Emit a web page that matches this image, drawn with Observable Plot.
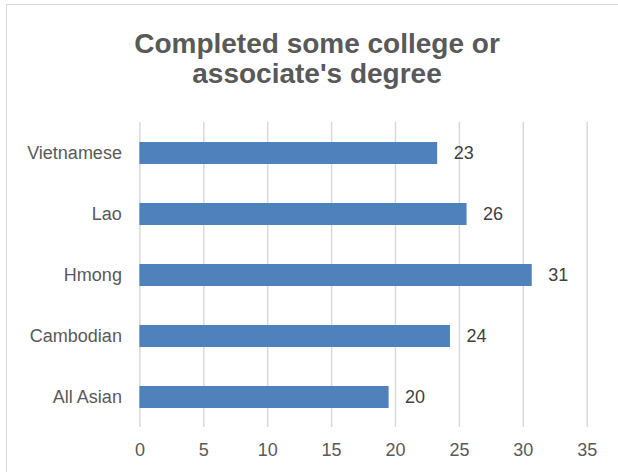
<!DOCTYPE html>
<html>
<head>
<meta charset="utf-8">
<script src="https://cdn.jsdelivr.net/npm/d3@7"></script>
<script src="https://cdn.jsdelivr.net/npm/@observablehq/plot@0.6"></script>
<style>
  html, body { margin: 0; padding: 0; background: #fff; }
  #wrap { position: relative; width: 618px; height: 472px; overflow: hidden; background: #fff; }
  #frame { position: absolute; left: 6px; top: 4px; width: 640px; height: 500px;
           border-left: 1.5px solid #d9d9d9; border-top: 1.5px solid #d9d9d9; pointer-events: none; }
  #title { position: relative; height: 100px; box-sizing: border-box; padding-top: 29px; padding-left: 16px;
           text-align: center; font-family: "Liberation Sans", Arial, sans-serif; font-weight: bold;
           font-size: 28px; line-height: 30px; color: #595959; }
  #chart { position: relative; }
  #chart svg { display: block; }
</style>
</head>
<body>
<div id="wrap">
  <div id="frame"></div>
  <div id="title">Completed some college or<br>associate's degree</div>
  <div id="chart"></div>
</div>
<script>
const categories = ["Vietnamese", "Lao", "Hmong", "Cambodian", "All Asian"];
const values = [23.3, 25.6, 30.7, 24.3, 19.5];
const valueLabels = ["23", "26", "31", "24", "20"];
const xTicks = [0, 5, 10, 15, 20, 25, 30, 35];

const data = categories.map((c, i) => ({category: c, value: values[i], label: valueLabels[i]}));

const chart = Plot.plot({
  width: 618,
  height: 372,
  marginTop: 22,
  marginBottom: 45,
  marginLeft: 139.4,
  marginRight: 31.3,
  style: {fontFamily: "'Liberation Sans', Arial, sans-serif", fontSize: "18px", background: "transparent"},
  x: {domain: [0, 35]},
  y: {domain: categories, paddingInner: 0.64, paddingOuter: 0.32},
  marks: [
    Plot.gridX(xTicks, {stroke: "#d9d9d9", strokeWidth: 1.5, strokeOpacity: 1}),
    Plot.barX(data, {x: "value", y: "category", fill: "#4f81bd"}),
    Plot.text(data, {x: "value", y: "category", text: "label", textAnchor: "start", dx: 16,
                     fill: "#404040", fontSize: 18}),
    Plot.axisX(xTicks, {tickSize: 0, tickPadding: 16, fill: "#595959", fontSize: 18, label: null}),
    Plot.axisY({tickSize: 0, tickPadding: 18, fill: "#595959", fontSize: 18, label: null})
  ]
});
document.getElementById("chart").appendChild(chart);
</script>
</body>
</html>
